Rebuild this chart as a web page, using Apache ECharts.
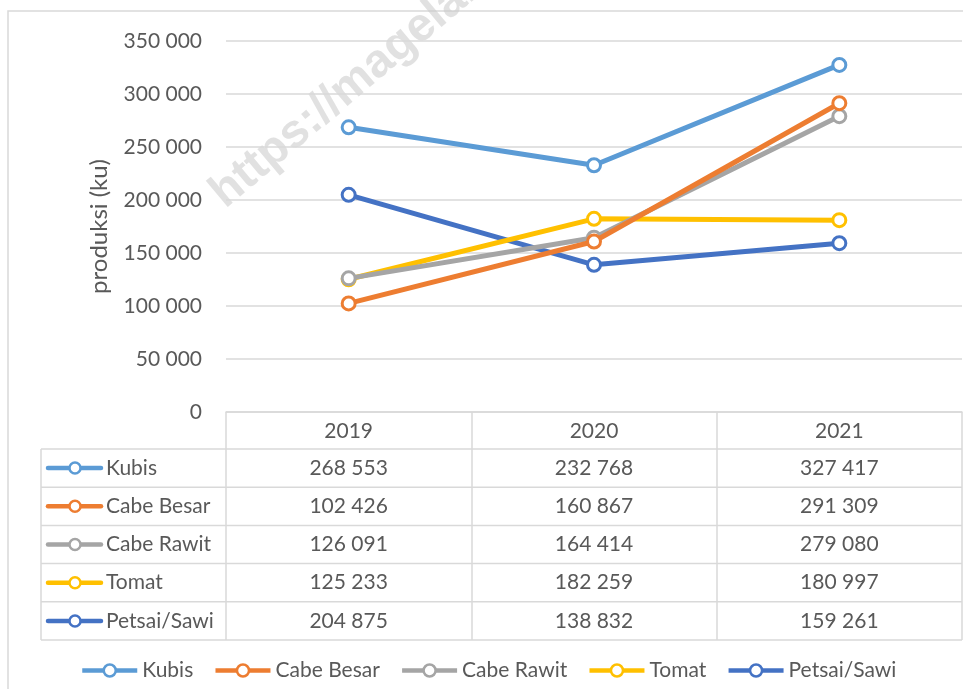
<!DOCTYPE html>
<html>
<head>
<meta charset="utf-8">
<script src="https://cdn.jsdelivr.net/npm/echarts@6/dist/echarts.min.js"></script>
<style>
  html, body { margin: 0; padding: 0; background: #fff; }
  #chart { width: 963px; height: 689px; }
</style>
</head>
<body>
<div id="chart"></div>
<script>
// data
const years = ['2019', '2020', '2021'];
const seriesNames = ['Kubis', 'Cabe Besar', 'Cabe Rawit', 'Tomat', 'Petsai/Sawi'];
const kubis = [268553, 232768, 327417];
const cabeBesar = [102426, 160867, 291309];
const cabeRawit = [126091, 164414, 279080];
const tomat = [125233, 182259, 180997];
const petsai = [204875, 138832, 159261];
const seriesData = [kubis, cabeBesar, cabeRawit, tomat, petsai];
const seriesColors = ['#5B9BD5', '#ED7D31', '#A5A5A5', '#FFC000', '#4472C4'];

// layout
const W = 963;
const gridLeft = 226;
const gridRight = 962;
const gridTop = 41;
const gridBottom = 412;
const tableLeft = 41;
const headerH = 37;
const rowH = 38.2;
const font = 'Lato, "Open Sans", sans-serif';
const textColor = '#595959';
const lineGray = '#d9d9d9';

const fmt = (v) => String(v).replace(/\B(?=(\d{3})+(?!\d))/g, ' ');

const chart = echarts.init(document.getElementById('chart'));

const option = {
  animation: false,
  backgroundColor: '#fff',
  textStyle: { fontFamily: font },
  grid: {
    left: gridLeft,
    right: W - gridRight,
    top: gridTop,
    bottom: 689 - gridBottom,
    containLabel: false
  },
  legend: {
    data: seriesNames,
    left: 80,
    top: 660,
    padding: 0,
    itemWidth: 55,
    itemHeight: 15,
    itemGap: 20,
    lineStyle: { width: 4.5 },
    itemStyle: { borderWidth: 2.5 },
    textStyle: { fontSize: 21, color: textColor, fontFamily: font }
  },
  xAxis: {
    type: 'category',
    data: years,
    boundaryGap: true,
    axisLine: { show: true, lineStyle: { color: lineGray, width: 1.5 } },
    axisTick: {
      show: true,
      interval: 0,
      alignWithLabel: false,
      length: headerH + rowH * seriesNames.length,
      lineStyle: { color: lineGray, width: 1.5 }
    },
    axisLabel: { fontSize: 21, color: textColor, margin: 9, fontFamily: font },
    splitLine: { show: false }
  },
  yAxis: {
    type: 'value',
    min: 0,
    max: 350000,
    interval: 50000,
    name: 'produksi (ku)',
    nameLocation: 'middle',
    nameGap: 115,
    nameTextStyle: { fontSize: 24, color: textColor, fontFamily: font },
    axisLine: { show: false },
    axisTick: { show: false },
    axisLabel: { fontSize: 21, color: textColor, margin: 24, formatter: fmt, fontFamily: font },
    splitLine: { lineStyle: { color: lineGray, width: 1.5 } }
  },
  series: seriesNames.map((name, i) => ({
    name: name,
    type: 'line',
    data: seriesData[i],
    symbol: 'circle',
    symbolSize: 13,
    z: 10 - i,
    lineStyle: { color: seriesColors[i], width: 5 },
    itemStyle: { color: '#fff', borderColor: seriesColors[i], borderWidth: 3 },
    emphasis: { disabled: true }
  }))
};

chart.setOption(option);

// data table + decorations, placed from the axes
const axisY = chart.convertToPixel({ yAxisIndex: 0 }, 0);
const colX = years.map((y) => chart.convertToPixel({ xAxisIndex: 0 }, y));
const tableTop = axisY + headerH;
const tableBottom = tableTop + rowH * seriesNames.length;

const graphics = [];

// outer chart border
graphics.push({
  type: 'rect',
  z: -10,
  shape: { x: 8, y: 11, width: 2000, height: 2000 },
  style: { fill: 'none', stroke: lineGray, lineWidth: 1.5 }
});

// watermark
graphics.push({
  type: 'text',
  z: -5,
  x: 232,
  y: 217,
  rotation: 0.7,
  style: {
    text: 'https://magelangkab.bps.go.id',
    fontSize: 47,
    fontWeight: 'bold',
    fontFamily: 'Liberation Sans, Arial, sans-serif',
    fill: 'rgba(200,200,200,0.55)',
    align: 'left',
    verticalAlign: 'bottom'
  }
});

// table lines
for (let r = 0; r <= seriesNames.length; r++) {
  const y = tableTop + r * rowH;
  graphics.push({
    type: 'line',
    shape: { x1: tableLeft, y1: y, x2: gridRight, y2: y },
    style: { stroke: lineGray, lineWidth: 1.5 }
  });
}
graphics.push({
  type: 'line',
  shape: { x1: tableLeft, y1: tableTop, x2: tableLeft, y2: tableBottom },
  style: { stroke: lineGray, lineWidth: 1.5 }
});

// table rows
seriesNames.forEach((name, i) => {
  const cy = tableTop + (i + 0.5) * rowH;
  graphics.push({
    type: 'line',
    shape: { x1: 48, y1: cy, x2: 101, y2: cy },
    style: { stroke: seriesColors[i], lineWidth: 4.5, lineCap: 'round' }
  });
  graphics.push({
    type: 'circle',
    shape: { cx: 75, cy: cy, r: 5.5 },
    style: { fill: '#fff', stroke: seriesColors[i], lineWidth: 2.5 }
  });
  graphics.push({
    type: 'text',
    x: 106,
    y: cy,
    style: { text: name, fontSize: 21, fill: textColor, fontFamily: font, align: 'left', verticalAlign: 'middle' }
  });
  seriesData[i].forEach((v, j) => {
    graphics.push({
      type: 'text',
      x: colX[j],
      y: cy,
      style: { text: fmt(v), fontSize: 21, fill: textColor, fontFamily: font, align: 'center', verticalAlign: 'middle' }
    });
  });
});

chart.setOption({ graphic: { elements: graphics } });
</script>
</body>
</html>
